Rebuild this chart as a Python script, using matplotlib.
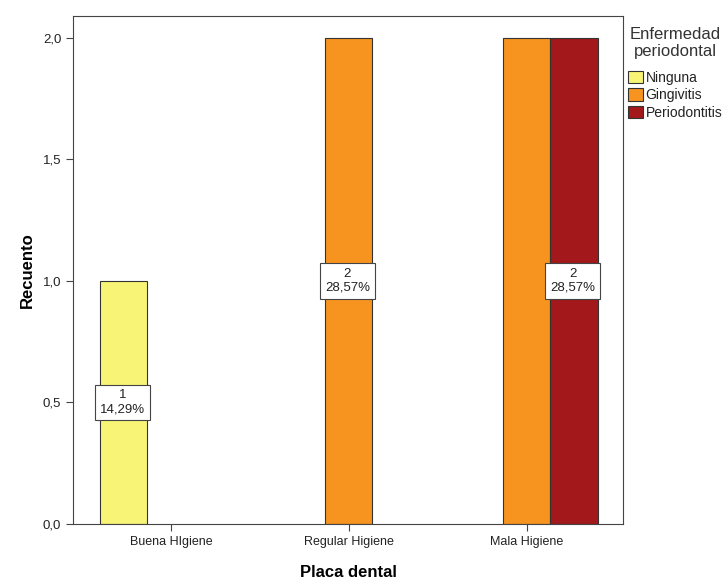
import matplotlib
matplotlib.use("Agg")
import matplotlib.pyplot as plt
import numpy as np

plt.rcParams['font.family'] = ['Liberation Sans', 'DejaVu Sans']

categories = ["Buena HIgiene", "Regular Higiene", "Mala Higiene"]
series_names = ["Ninguna", "Gingivitis", "Periodontitis"]
counts = {
    "Ninguna":       [1, 0, 0],
    "Gingivitis":    [0, 2, 2],
    "Periodontitis": [0, 0, 2],
}
percent_labels = {
    ("Ninguna", 0): "1\n14,29%",
    ("Gingivitis", 1): "2\n28,57%",
    ("Periodontitis", 2): "2\n28,57%",
}
colors = {"Ninguna": "#F8F576", "Gingivitis": "#F7941F", "Periodontitis": "#A2181B"}
yticks = [0.0, 0.5, 1.0, 1.5, 2.0]
ytick_labels = ["0,0", "0,5", "1,0", "1,5", "2,0"]

fig = plt.figure(figsize=(7.26, 5.86), dpi=100)
ax = fig.add_axes([0.1006, 0.106, 0.7575, 0.867])

w = 0.265
x = np.arange(len(categories))
offsets = {"Ninguna": -w, "Gingivitis": 0.0, "Periodontitis": w}
for s in series_names:
    for i, v in enumerate(counts[s]):
        if v > 0:
            ax.bar(x[i] + offsets[s], v, width=w, color=colors[s],
                   edgecolor="#333333", linewidth=0.8, zorder=2)
for (s, i), txt in percent_labels.items():
    v = counts[s][i]
    ax.text(x[i] + offsets[s] - 0.008, v / 2, txt, ha="center", va="center",
            fontsize=9.5, color="#222222", linespacing=1.25, zorder=4,
            bbox=dict(boxstyle="square,pad=0.35", fc="white", ec="#444444", lw=0.8))

ax.set_xlim(-0.55, 2.54)
ax.set_ylim(0, 2.09)
ax.set_xticks(x)
ax.set_xticklabels(categories, fontsize=9, color="#222222")
ax.set_yticks(yticks)
ax.set_yticklabels(ytick_labels, fontsize=9.5, color="#222222")
ax.tick_params(axis="both", direction="out", length=5, width=0.8, color="#444444")
ax.tick_params(axis="x", pad=4)
for sp in ax.spines.values():
    sp.set_color("#444444")
    sp.set_linewidth(0.8)

ax.set_ylabel("Recuento", fontsize=12, fontweight="bold", labelpad=6)
ax.set_xlabel("Placa dental", fontsize=12, fontweight="bold", labelpad=12)

handles = [plt.Rectangle((0, 0), 1, 1, fc=colors[s], ec="#333333", lw=0.8) for s in series_names]
leg = fig.legend(handles, series_names, title="Enfermedad\nperiodontal",
                 loc="upper left", bbox_to_anchor=(0.853, 0.968), frameon=False,
                 fontsize=10, title_fontsize=12, handlelength=1.1, handleheight=1.0,
                 handletextpad=0.2, labelspacing=0.25, borderaxespad=0.2)
leg.get_title().set_color("#333333")
leg.get_title().set_linespacing(1.2)
leg.get_title().set_multialignment("center")
leg._legend_box.sep = 8
for t in leg.get_texts():
    t.set_color("#222222")

fig.savefig("out.png", dpi=100)
